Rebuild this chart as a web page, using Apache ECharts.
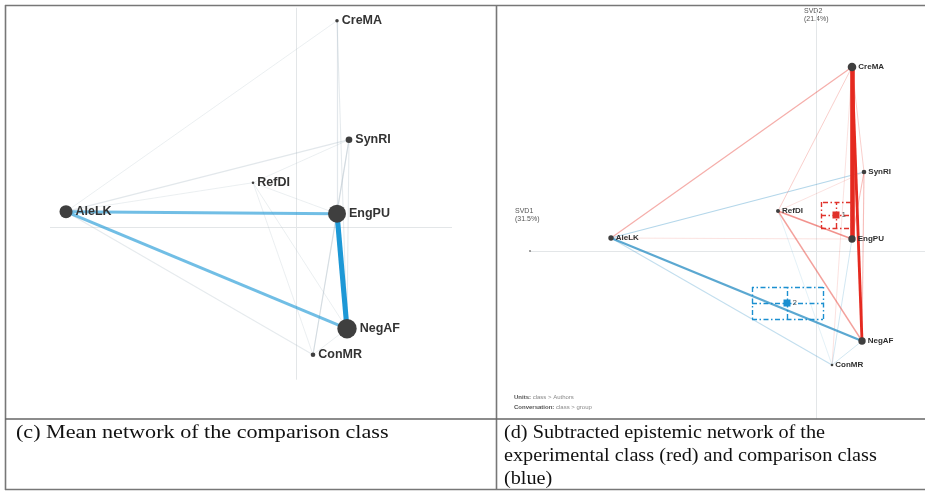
<!DOCTYPE html>
<html>
<head>
<meta charset="utf-8">
<script src="https://cdn.jsdelivr.net/npm/echarts@6/dist/echarts.min.js"></script>
<style>
html,body{margin:0;padding:0;background:#fff;}
#chart{width:925px;height:491px;}
</style>
</head>
<body>
<div id="chart"></div>
<script>
// ---------- DATA ----------
const codes = ['CreMA', 'SynRI', 'RefDI', 'AleLK', 'EngPU', 'NegAF', 'ConMR'];

// (c) comparison class mean network: node positions (SVD1, SVD2) and node weights
const xC = [0.41, 0.53, -0.43, -2.30, 0.41, 0.51, 0.17];
const yC = [2.07, 0.88, 0.45, 0.16, 0.14, -1.01, -1.27];
const nodeWC = [0.5, 0.95, 0.37, 1.86, 2.57, 2.77, 0.66];
// edges [source, target, weight]
const edgesC = [
  ['EngPU', 'NegAF', 0.30],
  ['AleLK', 'EngPU', 0.16],
  ['AleLK', 'NegAF', 0.16],
  ['AleLK', 'SynRI', 0.04],
  ['AleLK', 'CreMA', 0.02],
  ['AleLK', 'RefDI', 0.02],
  ['AleLK', 'ConMR', 0.03],
  ['CreMA', 'EngPU', 0.04],
  ['CreMA', 'NegAF', 0.03],
  ['SynRI', 'EngPU', 0.04],
  ['SynRI', 'NegAF', 0.03],
  ['SynRI', 'ConMR', 0.03],
  ['RefDI', 'SynRI', 0.02],
  ['RefDI', 'EngPU', 0.02],
  ['RefDI', 'NegAF', 0.02],
  ['RefDI', 'ConMR', 0.02],
  ['ConMR', 'NegAF', 0.02],
  ['ConMR', 'EngPU', 0.03]
];
const axisC = { x: [-2.46, 1.56], y: [-1.52, 2.2] };

// (d) subtracted network (experimental - comparison)
const xD = [0.36, 0.48, -0.38, -2.05, 0.36, 0.46, 0.16];
const yD = [1.84, 0.79, 0.40, 0.13, 0.12, -0.90, -1.14];
const nodeWD = [1.23, 0.66, 0.57, 0.77, 1.06, 1.06, 0.37];
// signed weights: positive = experimental (red), negative = comparison (blue)
const edgesD = [
  ['CreMA', 'EngPU', 0.25],
  ['CreMA', 'NegAF', 0.14],
  ['AleLK', 'NegAF', -0.11],
  ['AleLK', 'CreMA', 0.04],
  ['AleLK', 'SynRI', -0.04],
  ['RefDI', 'EngPU', 0.06],
  ['RefDI', 'NegAF', 0.05],
  ['AleLK', 'EngPU', 0.01],
  ['AleLK', 'ConMR', -0.03],
  ['SynRI', 'EngPU', 0.03],
  ['SynRI', 'NegAF', 0.03],
  ['CreMA', 'SynRI', 0.02],
  ['RefDI', 'CreMA', 0.02],
  ['RefDI', 'SynRI', 0.01],
  ['ConMR', 'NegAF', -0.02],
  ['ConMR', 'EngPU', -0.02],
  ['RefDI', 'ConMR', -0.01],
  ['CreMA', 'ConMR', 0.01]
];
const axisD = { x: [-2.86, 1.09], y: [-1.68, 2.41] };
// group means and confidence intervals [xmin, xmax, ymin, ymax]
const meanNames = ['1', '2'];
const meanX = [0.20, -0.29];
const meanY = [0.36, -0.52];
const meanCI = [[0.05, 0.35, 0.23, 0.49], [-0.64, 0.07, -0.68, -0.36]];

const axisLabelD1 = ['SVD1', '(31.5%)'];
const axisLabelD2 = ['SVD2', '(21.4%)'];
const captionC = ['(c) Mean network of the comparison class'];
const captionD = ['(d) Subtracted epistemic network of the', 'experimental class (red) and comparison class', '(blue)'];

// ---------- BUILD ----------
const RED = '#e52a20', BLUE_D = '#3b97c8', BLUE_C = '#1d98d6';
const MEAN_COL = ['#e0312a', '#1b8fd0'];

function pos(xs, ys, name) { const i = codes.indexOf(name); return [xs[i], ys[i]]; }

function edgeLinesC() {
  return edgesC.slice().sort((a, b) => a[2] - b[2]).map(e => {
    const w = e[2];
    const strong = w >= 0.1;
    return {
      coords: [pos(xC, yC, e[0]), pos(xC, yC, e[1])],
      lineStyle: {
        color: strong ? BLUE_C : '#a9bac4',
        width: 0.6 + w * 15,
        opacity: strong ? Math.min(1, 0.1 + w * 3.3) : 0.18 + w * 4
      }
    };
  });
}
function edgeLinesD() {
  return edgesD.slice().sort((a, b) => Math.abs(a[2]) - Math.abs(b[2])).map(e => {
    const w = Math.abs(e[2]);
    return {
      coords: [pos(xD, yD, e[0]), pos(xD, yD, e[1])],
      lineStyle: {
        color: e[2] > 0 ? RED : BLUE_D,
        width: 0.6 + w * 16,
        opacity: Math.min(1, 0.12 + w * 6.5)
      }
    };
  });
}
function nodeData(xs, ys, ws, k) {
  return codes.map((c, i) => ({ name: c, value: [xs[i], ys[i]], symbolSize: ws[i] * k }));
}
function axisLines(ax) {
  return [{ coords: [[ax.x[0], 0], [ax.x[1], 0]] }, { coords: [[0, ax.y[0]], [0, ax.y[1]]] }];
}
function ciLines() {
  const out = [];
  meanCI.forEach((b, i) => {
    const col = MEAN_COL[i];
    const [x0, x1, y0, y1] = b, mx = meanX[i], my = meanY[i];
    const segs = [
      [[x0, y0], [x1, y0]], [[x1, y0], [x1, y1]], [[x1, y1], [x0, y1]], [[x0, y1], [x0, y0]],
      [[x0, my], [x1, my]], [[mx, y0], [mx, y1]]
    ];
    segs.forEach(s => out.push({ coords: s, lineStyle: { color: col, opacity: 1 } }));
  });
  return out;
}

const chart = echarts.init(document.getElementById('chart'), null, { renderer: 'canvas' });

const labelFont = 'Liberation Sans';
const option = {
  animation: false,
  backgroundColor: '#fff',
  grid: [
    { left: 46, top: 7.7, width: 410, height: 410 },
    { left: 498, top: 6, width: 427, height: 413 }
  ],
  xAxis: [
    { gridIndex: 0, type: 'value', min: -2.5, max: 1.6, show: false },
    { gridIndex: 1, type: 'value', min: -3.18, max: 1.09, show: false }
  ],
  yAxis: [
    { gridIndex: 0, type: 'value', min: -1.9, max: 2.2, show: false },
    { gridIndex: 1, type: 'value', min: -1.68, max: 2.45, show: false }
  ],
  series: [
    // axis lines
    { type: 'lines', coordinateSystem: 'cartesian2d', xAxisIndex: 0, yAxisIndex: 0, silent: true, z: 1,
      lineStyle: { color: '#e3e6e8', width: 1, opacity: 1 }, data: axisLines(axisC) },
    { type: 'lines', coordinateSystem: 'cartesian2d', xAxisIndex: 1, yAxisIndex: 1, silent: true, z: 1,
      lineStyle: { color: '#e3e6e8', width: 1, opacity: 1 }, data: axisLines(axisD) },
    { type: 'scatter', xAxisIndex: 1, yAxisIndex: 1, silent: true, z: 1, symbolSize: 2,
      itemStyle: { color: '#666' }, data: [[axisD.x[0], 0]] },
    // edges
    { type: 'lines', coordinateSystem: 'cartesian2d', xAxisIndex: 0, yAxisIndex: 0, silent: true, z: 2,
      data: edgeLinesC() },
    { type: 'lines', coordinateSystem: 'cartesian2d', xAxisIndex: 1, yAxisIndex: 1, silent: true, z: 2,
      data: edgeLinesD() },
    // CI boxes
    { type: 'lines', coordinateSystem: 'cartesian2d', xAxisIndex: 1, yAxisIndex: 1, silent: true, z: 3,
      lineStyle: { width: 1.4, type: [5, 2.5, 1.5, 2.5], opacity: 1 }, data: ciLines() },
    // nodes
    { type: 'scatter', xAxisIndex: 0, yAxisIndex: 0, silent: true, z: 4,
      itemStyle: { color: '#3f3f3f', opacity: 1 },
      label: { show: true, position: 'right', distance: 3, formatter: '{b}',
        fontFamily: labelFont, fontWeight: 'bold', fontSize: 12.5, color: '#333' },
      data: nodeData(xC, yC, nodeWC, 7) },
    { type: 'scatter', xAxisIndex: 1, yAxisIndex: 1, silent: true, z: 4,
      itemStyle: { color: '#3f3f3f', opacity: 1 },
      label: { show: true, position: 'right', distance: 2, formatter: '{b}',
        fontFamily: labelFont, fontWeight: 'bold', fontSize: 8, color: '#2f2f2f' },
      data: nodeData(xD, yD, nodeWD, 7) },
    // means
    { type: 'scatter', xAxisIndex: 1, yAxisIndex: 1, silent: true, z: 5, symbol: 'rect', symbolSize: 7,
      label: { show: true, position: 'right', distance: 2, formatter: '{b}',
        fontFamily: labelFont, fontSize: 8, color: '#555' },
      data: meanNames.map((n, i) => ({ name: n, value: [meanX[i], meanY[i]],
        itemStyle: { color: MEAN_COL[i], opacity: 1 } })) }
  ],
  graphic: [
    // table rules
    { type: 'line', shape: { x1: 5, y1: 5.5, x2: 925, y2: 5.5 }, style: { stroke: '#777', lineWidth: 1.6 }, z: 100 },
    { type: 'line', shape: { x1: 5.5, y1: 5, x2: 5.5, y2: 490 }, style: { stroke: '#777', lineWidth: 1.6 }, z: 100 },
    { type: 'line', shape: { x1: 496.5, y1: 5, x2: 496.5, y2: 490 }, style: { stroke: '#777', lineWidth: 1.6 }, z: 100 },
    { type: 'line', shape: { x1: 5, y1: 419, x2: 925, y2: 419 }, style: { stroke: '#666', lineWidth: 1.6 }, z: 100 },
    { type: 'line', shape: { x1: 5, y1: 489.5, x2: 925, y2: 489.5 }, style: { stroke: '#777', lineWidth: 1.6 }, z: 100 },
    // svd axis labels
    { type: 'text', x: 804, y: 15, style: { text: axisLabelD2.join('\n'), font: '7px Liberation Sans', fill: '#555', lineHeight: 8.5, textVerticalAlign: 'middle' } },
    { type: 'text', x: 515, y: 215, style: { text: axisLabelD1.join('\n'), font: '7px Liberation Sans', fill: '#555', lineHeight: 8.5, textVerticalAlign: 'middle' } },
    // footer
    { type: 'text', x: 514, y: 397, style: { text: '{b|Units:} class > Authors', rich: { b: { fontWeight: 'bold', fill: '#555', fontSize: 6, fontFamily: 'Liberation Sans' } }, font: '6px Liberation Sans', fill: '#888', textVerticalAlign: 'middle' } },
    { type: 'text', x: 514, y: 407, style: { text: '{b|Conversation:} class > group', rich: { b: { fontWeight: 'bold', fill: '#555', fontSize: 6, fontFamily: 'Liberation Sans' } }, font: '6px Liberation Sans', fill: '#888', textVerticalAlign: 'middle' } },
    // captions
    { type: 'text', x: 16, y: 433, scaleX: 1.23, style: { text: captionC[0], font: '18px Liberation Serif', fill: '#111', textVerticalAlign: 'middle' } },
    { type: 'text', x: 504, y: 433, scaleX: 1.125, style: { text: captionD[0], font: '18px Liberation Serif', fill: '#111', textVerticalAlign: 'middle' } },
    { type: 'text', x: 504, y: 456, scaleX: 1.125, style: { text: captionD[1], font: '18px Liberation Serif', fill: '#111', textVerticalAlign: 'middle' } },
    { type: 'text', x: 504, y: 479, scaleX: 1.125, style: { text: captionD[2], font: '18px Liberation Serif', fill: '#111', textVerticalAlign: 'middle' } }
  ]
};
chart.setOption(option);
</script>
</body>
</html>
